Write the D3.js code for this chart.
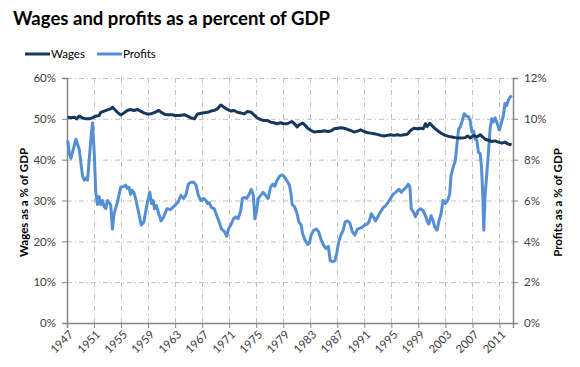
<!DOCTYPE html>
<html>
<head>
<meta charset="utf-8">
<script src="https://cdn.jsdelivr.net/npm/d3@7"></script>
<style>
  html, body { margin: 0; padding: 0; background: #ffffff; }
  svg { display: block; font-family: Lato, "Liberation Sans", sans-serif; }
</style>
</head>
<body>
<svg id="chart" width="580" height="367"></svg>
<script>
// ---- data ----
const titleText = "Wages and profits as a percent of GDP";
const seriesNames = ["Wages", "Profits"];
const xTickYears = [1947, 1951, 1955, 1959, 1963, 1967, 1971, 1975, 1979, 1983, 1987, 1991, 1995, 1999, 2003, 2007, 2011];
const leftTicks = [0, 0.1, 0.2, 0.3, 0.4, 0.5, 0.6];
const rightTicks = [0, 0.02, 0.04, 0.06, 0.08, 0.10, 0.12];

const wageYears = [1947.10, 1947.59, 1948.08, 1948.42, 1948.81, 1949.30, 1949.79, 1950.28, 1950.77, 1951.26, 1951.75, 1952.00, 1952.49, 1952.98, 1953.47, 1953.72, 1953.96, 1954.45, 1954.94, 1955.43, 1955.92, 1956.41, 1956.90, 1957.39, 1957.88, 1958.37, 1958.86, 1959.35, 1959.84, 1960.58, 1961.07, 1961.56, 1962.05, 1962.54, 1963.03, 1963.64, 1964.37, 1964.86, 1965.35, 1965.84, 1966.33, 1967.07, 1967.80, 1968.29, 1968.78, 1969.27, 1969.76, 1970.25, 1970.75, 1971.24, 1971.73, 1972.22, 1972.71, 1973.20, 1973.69, 1974.27, 1974.67, 1975.16, 1975.65, 1976.14, 1976.63, 1977.12, 1977.61, 1978.10, 1978.59, 1979.08, 1979.57, 1980.27, 1980.67, 1981.06, 1981.40, 1981.89, 1982.24, 1982.63, 1983.12, 1983.61, 1984.10, 1984.59, 1985.08, 1985.57, 1986.06, 1986.55, 1987.04, 1987.53, 1988.02, 1988.51, 1989.00, 1989.49, 1989.98, 1990.47, 1990.96, 1991.45, 1991.94, 1992.43, 1992.92, 1993.41, 1993.90, 1994.39, 1994.88, 1995.37, 1995.88, 1996.37, 1996.86, 1997.35, 1997.84, 1998.33, 1998.82, 1999.31, 1999.71, 2000.05, 2000.29, 2000.69, 2001.03, 2001.52, 2002.01, 2002.50, 2002.99, 2003.48, 2003.97, 2004.46, 2004.95, 2005.44, 2005.93, 2006.27, 2006.67, 2007.16, 2007.65, 2008.14, 2008.53, 2008.87, 2009.36, 2009.85, 2010.34, 2010.83, 2011.32, 2011.81, 2012.30, 2012.79];
const wageValues = [50.4, 50.25, 50.4, 50.0, 50.65, 50.25, 50.0, 50.0, 50.3, 50.65, 50.8, 51.6, 51.9, 52.2, 52.45, 52.8, 52.45, 51.6, 50.95, 51.45, 52.05, 52.3, 52.05, 52.3, 51.9, 51.45, 51.2, 51.2, 51.45, 52.05, 51.45, 51.05, 51.0, 51.0, 50.8, 50.8, 51.0, 50.65, 50.25, 50.0, 51.2, 51.45, 51.6, 51.9, 52.05, 52.45, 53.4, 52.85, 52.3, 51.9, 52.05, 51.6, 51.45, 51.2, 51.8, 51.6, 51.0, 50.2, 49.8, 49.6, 49.6, 49.2, 49.05, 48.8, 49.05, 48.8, 48.8, 49.35, 48.8, 48.0, 48.6, 48.95, 48.4, 47.7, 47.15, 46.75, 46.9, 46.9, 47.1, 46.9, 47.0, 47.55, 47.7, 47.8, 47.7, 47.4, 47.15, 46.75, 47.0, 47.3, 46.9, 46.6, 46.5, 46.35, 46.2, 45.95, 45.8, 45.95, 46.1, 45.95, 46.1, 45.95, 46.1, 46.2, 47.15, 47.7, 47.55, 47.7, 47.55, 48.8, 48.1, 48.9, 48.3, 47.55, 46.9, 46.35, 45.95, 45.7, 45.55, 45.4, 45.3, 45.3, 45.4, 45.8, 45.3, 45.95, 45.55, 46.1, 45.55, 45.0, 44.75, 44.45, 44.6, 44.3, 44.05, 44.3, 43.8, 43.65];

const profitYears = [1947.10, 1947.34, 1947.59, 1948.32, 1948.81, 1949.30, 1949.55, 1949.79, 1950.04, 1950.53, 1950.77, 1951.02, 1951.26, 1951.51, 1951.75, 1952.00, 1952.25, 1952.49, 1952.74, 1952.98, 1953.47, 1953.72, 1953.96, 1954.45, 1954.94, 1955.43, 1955.68, 1955.92, 1956.17, 1956.41, 1956.66, 1956.90, 1957.15, 1957.64, 1957.98, 1958.37, 1958.86, 1959.25, 1959.50, 1959.75, 1959.94, 1960.24, 1960.58, 1960.92, 1961.31, 1961.80, 1962.29, 1962.78, 1963.39, 1963.88, 1964.27, 1964.62, 1964.96, 1965.35, 1965.75, 1966.09, 1966.43, 1966.82, 1967.22, 1967.56, 1967.80, 1968.05, 1968.39, 1968.78, 1969.18, 1969.52, 1969.86, 1970.25, 1970.65, 1970.89, 1971.24, 1971.63, 1971.97, 1972.31, 1972.71, 1972.95, 1973.29, 1973.59, 1973.93, 1974.27, 1974.57, 1974.81, 1975.06, 1975.30, 1975.65, 1976.04, 1976.38, 1976.77, 1977.12, 1977.46, 1977.75, 1978.10, 1978.49, 1978.83, 1979.08, 1979.47, 1979.93, 1980.18, 1980.32, 1980.67, 1981.06, 1981.30, 1981.65, 1981.89, 1982.24, 1982.63, 1982.87, 1983.12, 1983.51, 1983.95, 1984.25, 1984.59, 1984.98, 1985.32, 1985.67, 1985.96, 1986.30, 1986.65, 1986.94, 1987.19, 1987.53, 1987.87, 1988.17, 1988.51, 1988.85, 1989.25, 1989.59, 1989.98, 1990.37, 1990.72, 1991.06, 1991.45, 1991.75, 1992.04, 1992.33, 1992.68, 1993.07, 1993.41, 1993.80, 1994.15, 1994.49, 1994.88, 1995.23, 1995.62, 1996.13, 1996.47, 1996.86, 1997.21, 1997.50, 1997.75, 1997.94, 1998.24, 1998.58, 1998.92, 1999.31, 1999.71, 2000.05, 2000.29, 2000.54, 2000.88, 2001.18, 2001.42, 2001.76, 2002.01, 2002.35, 2002.65, 2002.99, 2003.33, 2003.63, 2003.82, 2004.12, 2004.46, 2004.71, 2004.95, 2005.20, 2005.44, 2005.78, 2006.08, 2006.42, 2006.67, 2006.91, 2007.16, 2007.40, 2007.65, 2007.89, 2008.14, 2008.33, 2008.53, 2008.68, 2008.87, 2009.12, 2009.36, 2009.61, 2009.85, 2010.10, 2010.34, 2010.59, 2010.98, 2011.32, 2011.57, 2011.81, 2012.06, 2012.30, 2012.55, 2012.79];
const profitValues = [8.94, 8.3, 8.07, 9.0, 8.5, 7.2, 7.0, 7.1, 7.0, 9.0, 9.8, 8.4, 6.4, 5.8, 6.2, 5.8, 6.0, 5.7, 5.6, 6.0, 5.8, 4.6, 5.35, 5.9, 6.65, 6.7, 6.75, 6.6, 6.65, 6.3, 6.5, 6.4, 6.1, 5.35, 4.8, 4.95, 5.85, 6.4, 5.85, 6.0, 5.6, 5.75, 5.35, 5.0, 5.2, 5.6, 5.55, 5.7, 5.9, 6.25, 6.1, 6.3, 6.8, 6.9, 6.9, 6.75, 6.25, 6.0, 6.1, 6.0, 5.85, 5.9, 5.65, 5.6, 5.25, 4.95, 4.6, 4.5, 4.25, 4.6, 4.8, 5.1, 5.2, 5.1, 5.5, 6.1, 6.15, 6.1, 6.3, 6.55, 6.25, 5.1, 5.5, 6.1, 6.25, 6.4, 6.25, 6.1, 6.65, 6.8, 6.7, 7.0, 7.2, 7.25, 7.2, 7.0, 6.75, 6.25, 5.8, 5.7, 5.35, 4.95, 4.8, 4.35, 4.05, 3.85, 3.9, 4.3, 4.55, 4.6, 4.45, 4.1, 3.8, 3.65, 3.75, 3.05, 3.0, 3.05, 3.45, 3.95, 4.3, 4.55, 4.95, 5.0, 4.9, 4.45, 4.3, 4.6, 4.65, 4.7, 4.8, 4.85, 5.0, 5.35, 5.2, 5.0, 5.25, 5.45, 5.65, 5.75, 5.9, 6.1, 6.3, 6.4, 6.55, 6.4, 6.55, 6.65, 6.8, 6.65, 5.6, 5.45, 5.2, 5.5, 5.6, 5.5, 5.25, 5.0, 4.85, 5.25, 5.0, 4.7, 4.55, 4.95, 5.35, 6.0, 5.85, 6.0, 6.3, 7.2, 7.6, 7.95, 8.75, 9.5, 9.6, 9.85, 10.25, 10.15, 10.1, 9.9, 9.35, 9.4, 9.0, 8.95, 8.35, 8.3, 7.7, 6.25, 4.55, 6.25, 7.3, 8.35, 9.5, 10.0, 9.85, 10.05, 9.85, 9.45, 9.85, 10.15, 10.75, 10.65, 10.9, 11.05, 11.15];

// ---- layout ----
const svg = d3.select("#chart");
const plot = { left: 67, right: 513, top: 78, bottom: 323 };
const wageColor = "#17375E";
const profitColor = "#558ED5";
const axisColor = "#868686";
const gridColor = "#BFBFBF";
const textColor = "#404040";

const x = d3.scaleLinear().domain([1947, 2013]).range([plot.left, plot.right]);
const yL = d3.scaleLinear().domain([0, 0.6]).range([plot.bottom, plot.top]);
const yR = d3.scaleLinear().domain([0, 0.12]).range([plot.bottom, plot.top]);

// title
svg.append("text")
  .attr("x", 13).attr("y", 25)
  .attr("font-size", 18.5).attr("font-weight", "bold").attr("fill", "#000")
  .attr("textLength", 317).attr("lengthAdjust", "spacingAndGlyphs")
  .text(titleText);

// legend
const legendItems = [
  { name: seriesNames[0], color: wageColor, x0: 25 },
  { name: seriesNames[1], color: profitColor, x0: 97 }
];
legendItems.forEach(it => {
  svg.append("line").attr("x1", it.x0).attr("x2", it.x0 + 25)
    .attr("y1", 54).attr("y2", 54)
    .attr("stroke", it.color).attr("stroke-width", 3);
  svg.append("text").attr("x", it.x0 + 26).attr("y", 58)
    .attr("font-size", 11.5).attr("fill", "#000").text(it.name);
});

// gridlines (horizontal)
svg.append("g").selectAll("line").data(leftTicks.filter(d => d > 0)).join("line")
  .attr("x1", plot.left).attr("x2", plot.right)
  .attr("y1", d => yL(d) + 0.5).attr("y2", d => yL(d) + 0.5)
  .attr("stroke", gridColor).attr("stroke-width", 1).attr("stroke-dasharray", "5,3,1,3");

// gridlines (vertical)
svg.append("g").selectAll("line").data(xTickYears.slice(1)).join("line")
  .attr("x1", d => Math.round(x(d)) + 0.5).attr("x2", d => Math.round(x(d)) + 0.5)
  .attr("y1", plot.top).attr("y2", plot.bottom)
  .attr("stroke", gridColor).attr("stroke-width", 1).attr("stroke-dasharray", "5,3,1,3");

// axes
const leftAxis = d3.axisLeft(yL).tickValues(leftTicks).tickFormat(d3.format(".0%")).tickSize(5).tickPadding(6);
const rightAxis = d3.axisRight(yR).tickValues(rightTicks).tickFormat(d3.format(".0%")).tickSize(5).tickPadding(6);
const bottomAxis = d3.axisBottom(x).tickValues(xTickYears).tickFormat(d3.format("d")).tickSize(5).tickPadding(4);

function styleAxis(g) {
  g.select(".domain").attr("stroke", axisColor).attr("stroke-width", 1.5);
  g.selectAll(".tick line").attr("stroke", axisColor);
  g.selectAll(".tick text").attr("fill", textColor).attr("font-size", 11.5)
    .attr("font-family", "Lato, 'Liberation Sans', sans-serif");
}

const gL = svg.append("g").attr("transform", `translate(${plot.left},0)`).call(leftAxis).call(styleAxis);
const gR = svg.append("g").attr("transform", `translate(${plot.right},0)`).call(rightAxis).call(styleAxis);
const gB = svg.append("g").attr("transform", `translate(0,${plot.bottom})`).call(bottomAxis).call(styleAxis);
gB.selectAll(".tick text")
  .attr("text-anchor", "end")
  .attr("dx", "0.2em").attr("dy", "0.6em")
  .attr("transform", "rotate(-45)");
gB.selectAll(".tick text").each(function() {
  const t = d3.select(this);
  t.attr("transform", `translate(0,${+t.attr("y") || 0}) rotate(-45)`).attr("y", 0);
});

// axis titles
svg.append("text")
  .attr("transform", `translate(28,${(plot.top + plot.bottom) / 2 + 2}) rotate(-90)`)
  .attr("text-anchor", "middle").attr("font-size", 11.5).attr("font-weight", "bold").attr("fill", "#000")
  .text("Wages as a % of GDP");
svg.append("text")
  .attr("transform", `translate(562,${(plot.top + plot.bottom) / 2 + 2}) rotate(-90)`)
  .attr("text-anchor", "middle").attr("font-size", 11.5).attr("font-weight", "bold").attr("fill", "#000")
  .text("Profits as a % of GDP");

// lines
const wageData = wageYears.map((yr, i) => [yr, wageValues[i] / 100]);
const profitData = profitYears.map((yr, i) => [yr, profitValues[i] / 100]);

svg.append("path").datum(profitData)
  .attr("fill", "none").attr("stroke", profitColor).attr("stroke-width", 3)
  .attr("stroke-linejoin", "round")
  .attr("d", d3.line().x(d => x(d[0])).y(d => yR(d[1])));

svg.append("path").datum(wageData)
  .attr("fill", "none").attr("stroke", wageColor).attr("stroke-width", 3)
  .attr("stroke-linejoin", "round")
  .attr("d", d3.line().x(d => x(d[0])).y(d => yL(d[1])));
</script>
</body>
</html>
